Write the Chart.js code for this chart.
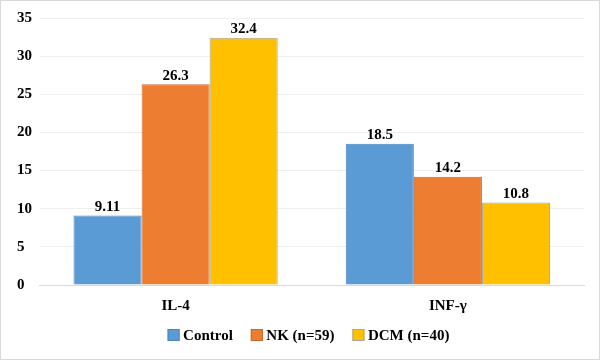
<!DOCTYPE html>
<html><head><meta charset="utf-8">
<script src="https://cdn.jsdelivr.net/npm/chart.js@4/dist/chart.umd.min.js"></script>
<style>
html,body{margin:0;padding:0;background:#fff;}
#wrap{width:598px;height:358px;border:1px solid #d9d9d9;position:relative;}
</style></head>
<body><div id="wrap"><canvas id="c" width="598" height="358"></canvas></div>
<script>
const categories = ["IL-4", "INF-γ"];
const seriesNames = ["Control", "NK (n=59)", "DCM (n=40)"];
const controlValues = [9.11, 18.5];
const nkValues = [26.3, 14.2];
const dcmValues = [32.4, 10.8];
const valueLabels = [["9.11", "18.5"], ["26.3", "14.2"], ["32.4", "10.8"]];
const yTicks = [0, 5, 10, 15, 20, 25, 30, 35];

const FONT = "'Liberation Serif', 'Times New Roman', serif";
const fills = ["#5b9bd5", "#ed7d31", "#ffc000"];
const borders = ["#4a86bf", "#c8672a", "#a5a5a5"];

const labelPlugin = {
  id: 'valueLabels',
  afterDatasetsDraw(chart) {
    const ctx = chart.ctx;
    ctx.save();
    ctx.font = "bold 15px " + FONT;
    ctx.fillStyle = "#000";
    ctx.textAlign = "center";
    ctx.textBaseline = "bottom";
    chart.data.datasets.forEach((ds, i) => {
      chart.getDatasetMeta(i).data.forEach((bar, j) => {
        ctx.fillText(valueLabels[i][j], bar.x, bar.y - 1);
      });
    });
    ctx.restore();
  },
  afterDraw(chart) {
    // custom legend (Excel-like spacing)
    const ctx = chart.ctx;
    ctx.save();
    ctx.font = "bold 15px " + FONT;
    const box = 12, gapBox = 3.5, gapItem = 18;
    const items = chart.data.datasets.map(ds => ({
      text: ds.label, fill: ds.backgroundColor, stroke: ds.borderColor,
      w: ctx.measureText(ds.label).width
    }));
    const total = items.reduce((a, it) => a + box + gapBox + it.w, 0) + gapItem * (items.length - 1);
    let x = 307.5 - total / 2;
    const yc = 334;
    ctx.textBaseline = "middle";
    ctx.textAlign = "left";
    items.forEach(it => {
      ctx.fillStyle = it.fill;
      ctx.fillRect(x, yc - box / 2, box, box);
      ctx.strokeStyle = it.stroke;
      ctx.lineWidth = 1;
      ctx.strokeRect(x + 0.5, yc - box / 2 + 0.5, box - 1, box - 1);
      ctx.fillStyle = "#000";
      ctx.fillText(it.text, x + box + gapBox, yc + 1);
      x += box + gapBox + it.w + gapItem;
    });
    ctx.restore();
  }
};

new Chart(document.getElementById('c'), {
  type: 'bar',
  data: {
    labels: categories,
    datasets: [controlValues, nkValues, dcmValues].map((d, i) => ({
      label: seriesNames[i],
      data: d,
      backgroundColor: fills[i],
      borderColor: borders[i],
      borderWidth: 1,
      categoryPercentage: 0.75,
      barPercentage: 1.0
    }))
  },
  options: {
    responsive: false,
    animation: false,
    layout: { padding: { top: 14, right: 15, left: 16, bottom: 42 } },
    scales: {
      x: {
        grid: { display: false },
        border: { color: "#d9d9d9" },
        afterFit: (s) => { s.height = 32; },
        ticks: { color: "#000", font: { family: FONT, size: 15, weight: "bold" }, padding: 4 }
      },
      y: {
        min: 0, max: 35,
        afterBuildTicks: (s) => { s.ticks = yTicks.map(v => ({ value: v })); },
        afterFit: (s) => { s.width = 22.5; },
        grid: { color: "#eeeeee", drawTicks: false },
        border: { display: false },
        ticks: { color: "#000", crossAlign: 'far', font: { family: FONT, size: 15, weight: "bold" }, padding: 8 }
      }
    },
    plugins: {
      legend: { display: false },
      tooltip: { enabled: false }
    }
  },
  plugins: [labelPlugin]
});
</script></body></html>
